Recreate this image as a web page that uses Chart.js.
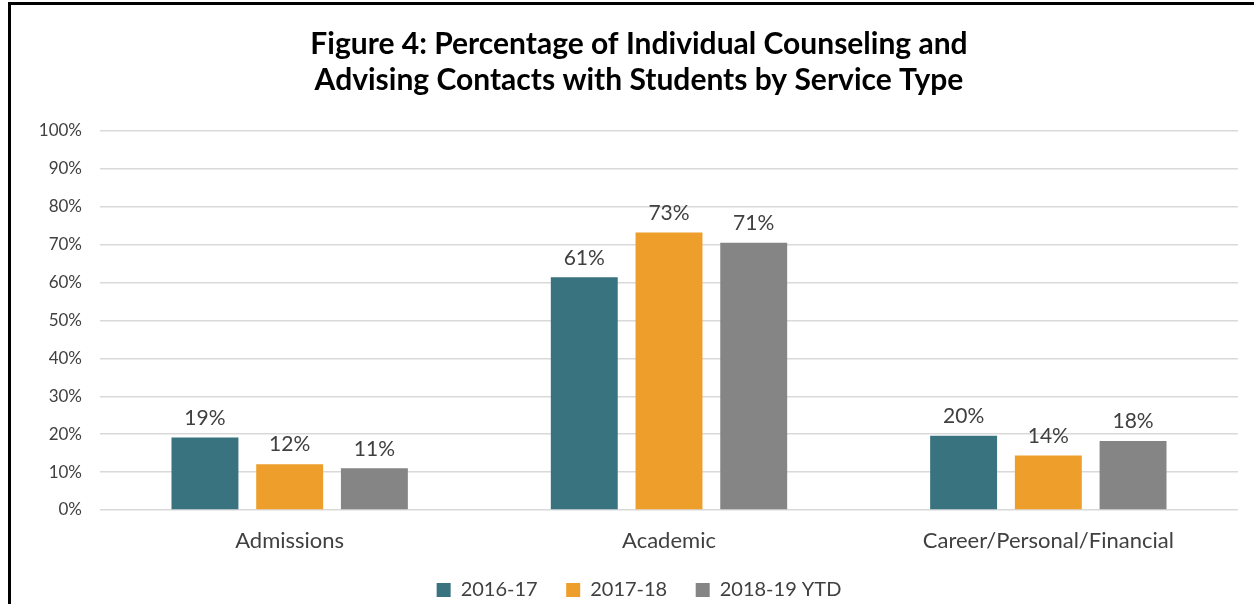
<!DOCTYPE html>
<html>
<head>
<meta charset="utf-8">
<script src="https://cdn.jsdelivr.net/npm/chart.js@4"></script>
<style>
  html, body { margin: 0; padding: 0; background: #fff; }
  #wrap { position: relative; width: 1254px; height: 604px; }
  #frame { position: absolute; left: 8px; top: 2px; right: 0; bottom: -3px; border-left: 3px solid #000; border-top: 3px solid #000; pointer-events: none; }
</style>
</head>
<body>
<div id="wrap">
  <canvas id="chart" width="1254" height="604"></canvas>
  <div id="frame"></div>
</div>
<script>
// Data
const categories = ['Admissions', 'Academic', 'Career/Personal/Financial'];
const seriesNames = ['2016-17', '2017-18', '2018-19 YTD'];
const values1617 = [19.1, 61.4, 19.6];
const values1718 = [12.1, 73.2, 14.4];
const values1819 = [11.0, 70.5, 18.2];
const yTicks = [0, 10, 20, 30, 40, 50, 60, 70, 80, 90, 100];

const colors = ['#3A7380', '#EE9E2A', '#858585'];
const FONT = 'Lato, "Open Sans", sans-serif';

// draws the value above each bar
const barLabels = {
    id: 'barLabels',
    afterDatasetsDraw(chart) {
        const ctx = chart.ctx;
        ctx.save();
        ctx.font = '21px ' + FONT;
        ctx.fillStyle = '#404040';
        ctx.textAlign = 'center';
        ctx.textBaseline = 'bottom';
        chart.data.datasets.forEach((ds, i) => {
            chart.getDatasetMeta(i).data.forEach((bar, j) => {
                ctx.fillText(Math.round(ds.data[j]) + '%', bar.x, bar.y - 9);
            });
        });
        ctx.restore();
    }
};

new Chart(document.getElementById('chart'), {
    type: 'bar',
    data: {
        labels: categories,
        datasets: [values1617, values1718, values1819].map((d, i) => ({
            label: seriesNames[i],
            data: d,
            backgroundColor: colors[i],
            categoryPercentage: 0.67,
            barPercentage: 0.79
        }))
    },
    options: {
        responsive: false,
        animation: false,
        layout: { padding: { left: 40, right: 16, top: 10, bottom: -6 } },
        plugins: {
            title: {
                display: true,
                text: ['Figure 4: Percentage of Individual Counseling and', 'Advising Contacts with Students by Service Type'],
                font: { family: FONT, size: 30, weight: 'bold' },
                color: '#000',
                padding: { top: 16, bottom: 33 },
                lineHeight: 1.27
            },
            legend: {
                position: 'bottom',
                labels: {
                    font: { family: FONT, size: 20 },
                    color: '#404040',
                    boxWidth: 14,
                    boxHeight: 14,
                    padding: 16,
                    // extra gap between the legend entries
                    generateLabels(chart) {
                        const items = Chart.defaults.plugins.legend.labels.generateLabels(chart);
                        items.forEach((it, i) => { if (i < items.length - 1) it.text += '\u2002\u2009'; });
                        return items;
                    }
                }
            },
            tooltip: { enabled: false }
        },
        scales: {
            x: {
                grid: { display: false },
                border: { display: false },
                ticks: { font: { family: FONT, size: 22, lineHeight: 1 }, color: '#404040', padding: 12 }
            },
            y: {
                min: 0,
                max: 100,
                afterBuildTicks(axis) { axis.ticks = yTicks.map(v => ({ value: v })); },
                afterFit(axis) { axis.width = 60; },
                grid: { color: '#d9d9d9', lineWidth: 1.5, drawTicks: false },
                border: { display: false },
                ticks: {
                    font: { family: FONT, size: 17 },
                    color: '#404040',
                    padding: 18,
                    callback: v => v + '%'
                }
            }
        }
    },
    plugins: [barLabels]
});
</script>
</body>
</html>
